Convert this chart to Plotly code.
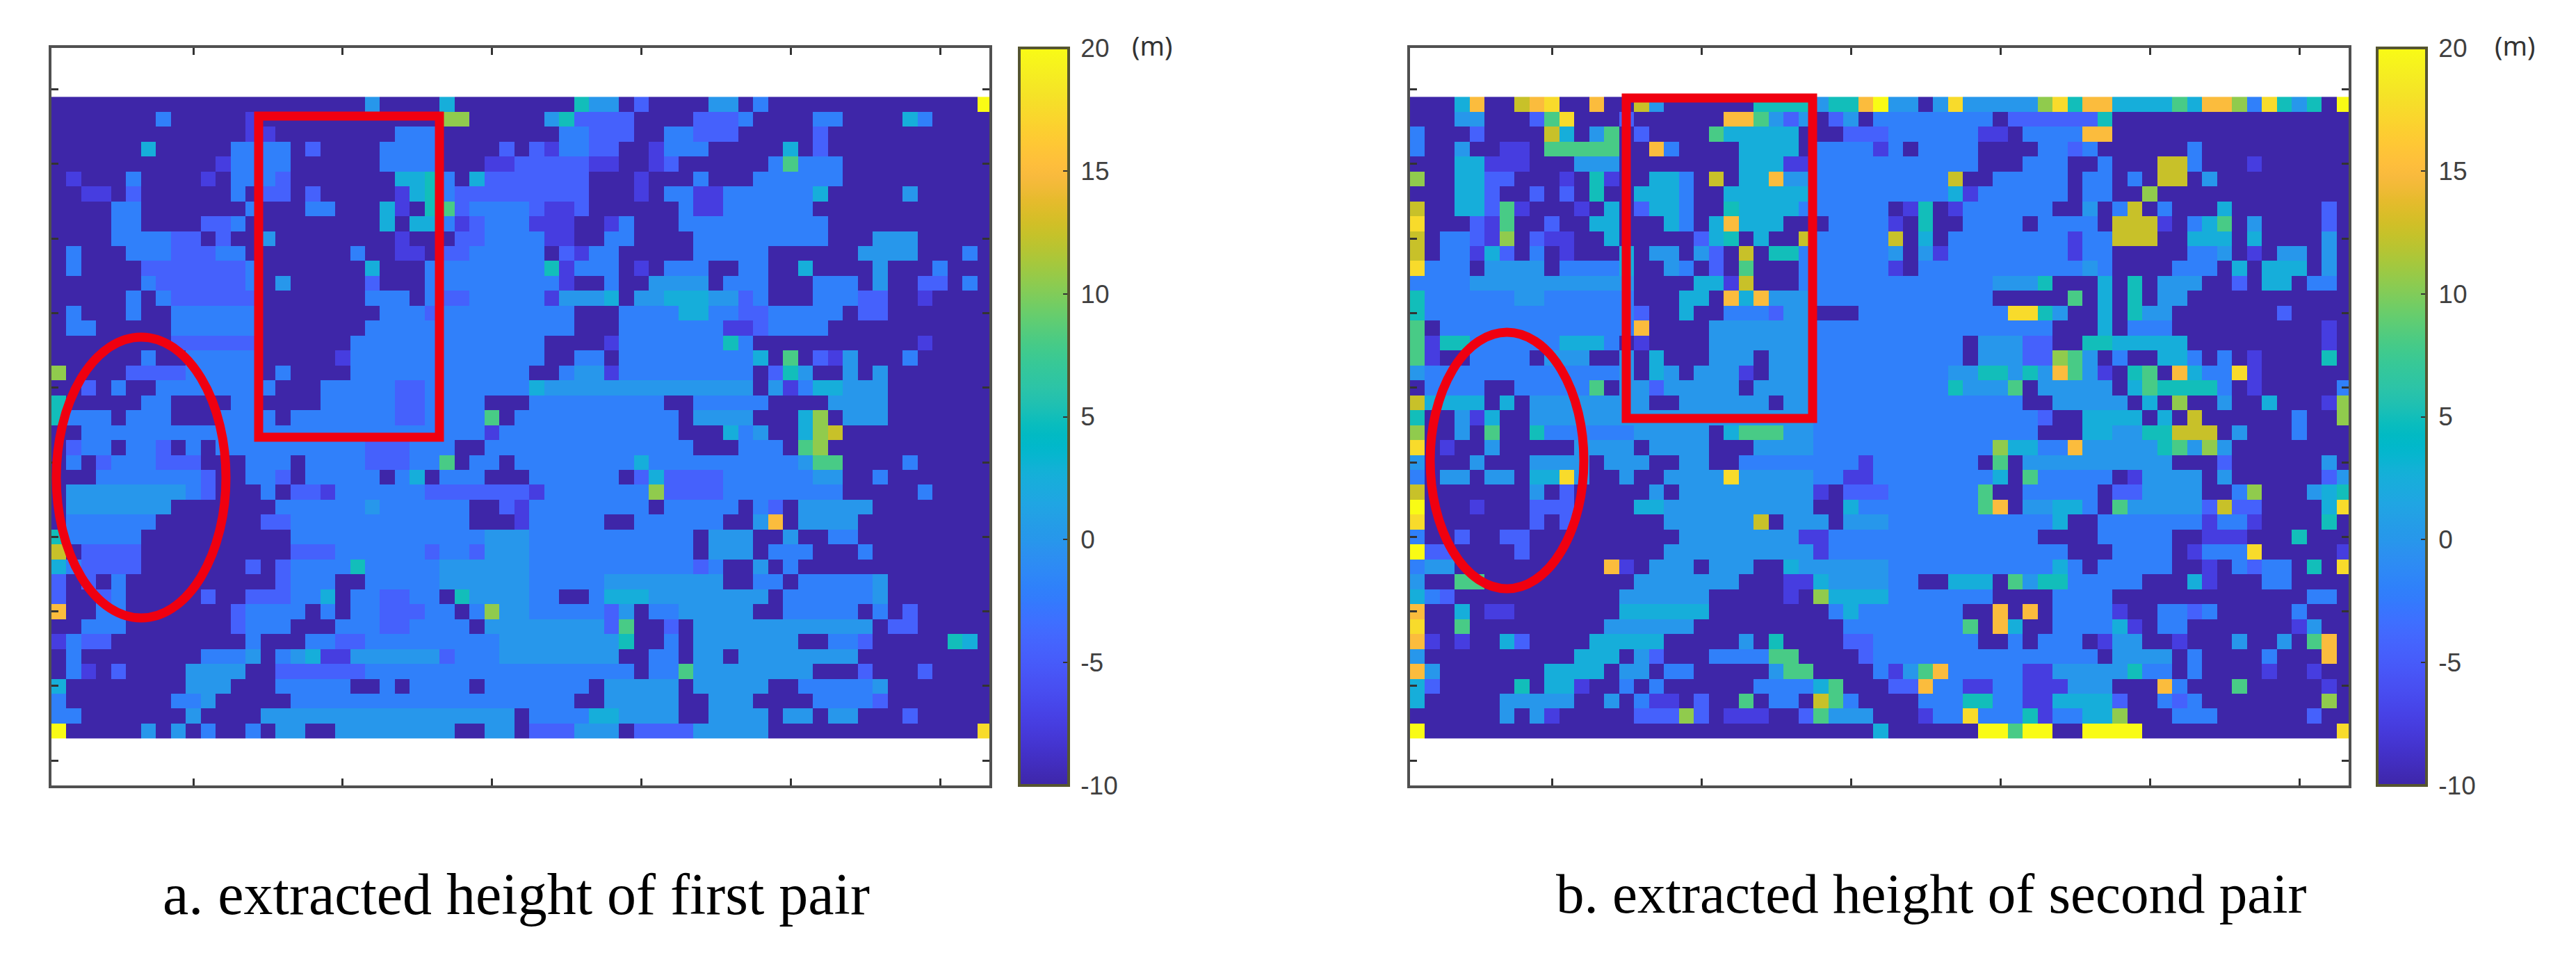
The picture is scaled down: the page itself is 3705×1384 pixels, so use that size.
import re
import plotly.graph_objects as go

W, H = 3705, 1384
N_COLS, N_ROWS = 63, 43

# Height levels (m) used when reading cells off the picture
LEVELS = {".": -10, "p": -7.5, "b": -4.5, "c": -2, "d": 0, "e": 2.5, "f": 5,
          "g": 8, "h": 10.5, "i": 12.5, "j": 15, "k": 17.5, "l": 20}

# Each row: "<start column><level>" runs, left to right
ROWS_FIRST = [
"1. 22d 23. 27e 28. 36f 37d 39. 40b 41. 45d 47. 48c 49. 63l",
"1. 8c 9. 14p 15. 27h 29. 34d 35f 36b 40. 44b 47c 48. 52c 54. 58e 59c 60.",
"1. 14p 16. 24c 27. 35c 37b 40. 42c 44b 47. 52b 53.",
"1. 7e 8. 13c 17. 18b 19. 23c 27. 31b 32. 33b 34p 35c 37b 39. 41p 42c 45. 50e 51. 52b 53.",
"1. 12p 13c 17. 23c 27. 30p 32b 37p 39. 41p 42b 43. 49c 50g 51c 54.",
"1. 2p 3. 6c 7. 11p 12. 13c 16b 17. 24e 26f 27c 28. 29e 30b 37. 40p 41. 44c 45. 48c 54.",
"1. 3p 5. 6b 7. 13c 14. 15b 17. 18b 19. 24p 25e 26f 27c 28b 37. 40p 41. 42c 44p 46c 52e 53. 58d 59.",
"1. 5c 7. 14c 15. 18c 20. 23e 24p 25. 26f 27g 28b 29c 33b 34p 36b 37. 43c 44p 46c 52.",
"1. 5c 7. 11b 13c 14. 23e 24. 25e 27c 28p 29b 30c 33p 36. 38p 39c 40. 43c 53.",
"1. 5c 9b 11. 12b 13. 15d 16. 24p 25. 28b 30c 34p 36. 38c 40. 44c 53. 56d 59.",
"1. 2c 3. 6c 9b 12c 14. 21c 22. 24p 26. 27b 29c 34. 35b 36p 37c 39. 44c 49. 55d 59. 62c 63.",
"1. 2c 3. 7b 14c 15. 22e 23. 26c 34f 35p 36c 39. 40p 41. 42c 45. 47c 49. 51e 52. 56d 57. 60c 61.",
"1. 7c 8b 14c 15. 16d 17. 22b 23. 26c 35p 36. 38c 39. 41d 45. 46c 49. 52c 55. 56d 57. 59b 61. 62c 63.",
"1. 6c 7. 8c 9b 15. 22c 25. 26c 27b 29c 34p 35d 38e 39. 40d 42e 45d 47b 48c 49. 52c 55b 57. 59p 60.",
"1. 2c 3. 6c 7. 9c 15. 23c 26b 27c 36. 39c 43e 45c 47b 49c 54. 55b 57.",
"1. 2c 4. 9c 15. 22c 36. 39c 46p 48b 49c 53.",
"1. 9b 15. 21c 34. 38p 39c 46f 47c 48. 59p 60.",
"1. 7c 8. 10c 15. 20p 21c 34. 36c 38. 39c 48e 49. 50g 51. 52b 53p 54d 55. 58c 59.",
"1h 2. 6b 10c 15. 16c 17. 21c 33. 35c 36d 38p 39c 48. 49b 50f 51d 52. 54d 55. 56d 57.",
"1. 3b 4. 5c 6. 8c 16. 19c 24b 26c 33e 34d 48. 49d 50p 51c 52e 54d 57.",
"1f 2. 7c 9. 13c 15. 19c 24b 26c 30. 33c 42. 44c 49. 53d 57.",
"1f 2c 5. 6c 9. 12c 16. 17c 24b 26c 30g 31. 32c 43. 44d 48. 51e 52h 53. 54d 57.",
"1. 3c 30p 31c 43. 46e 47c 48d 49. 51e 52h 53i 54.",
"1. 2b 3c 5. 6c 8b 9. 10c 11. 12c 22b 25c 28. 30c 44. 47c 50. 51g 52h 53.",
"1. 2c 3. 4b 5c 8b 11. 14c 17. 18c 22b 25c 27g 28. 29c 31. 32c 40e 41c 51d 52g 54. 58c 59.",
"1. 4c 11b 12. 14c 16b 17. 18c 23. 24c 25e 26. 27c 30. 33c 39. 40b 41e 42b 46c 52d 54. 56c 57.",
"1. 2d 10c 11b 12. 15c 16. 17b 19p 20c 26b 33p 34c 41h 42b 46c 54. 59c 60.",
"1. 2d 9. 16c 22d 23c 29. 31b 32p 33c 41. 42c 47. 48c 49b 50. 51d 56.",
"1. 2c 8. 15b 17c 29. 32p 33c 38. 40c 46. 48d 49j 50. 51d 55.",
"1f 2c 7. 17c 30d 33c 44. 45d 48. 50d 51. 53c 55.",
"1i 2. 3b 7. 17b 20c 26b 27c 29b 30d 33c 44. 45d 48. 49c 52. 55c 56.",
"1e 2c 3b 7. 14b 15. 16b 17c 21f 22c 27d 33c 44b 45c 46. 48d 49. 50c 51.",
"1b 2. 3b 4. 5c 6. 16b 17c 20. 22c 27d 33c 38d 41d 46. 48c 50. 51c 56d 57.",
"1b 2. 4b 5c 6. 11b 12. 14b 17c 19e 20. 21c 23b 25c 27. 28f 29d 33c 35. 37c 38e 41d 49. 50c 56d 57.",
"1j 2. 4c 6. 13b 14c 18. 19c 20. 21c 23b 26c 28. 29c 30h 31d 33c 38b 39d 40. 41c 43d 48. 50c 55. 56c 57. 58b 59.",
"1. 3c 6. 13b 14c 17. 20c 23b 25c 29. 30d 38b 39g 40. 42b 43. 44d 56. 57b 59.",
"1p 2c 3b 5. 14c 15. 18c 20b 22c 31d 39f 40. 42c 43. 44d 51. 53c 55b 56. 61f 62e 63.",
"1. 2c 3. 11c 14d 15. 16c 17d 18e 19p 21d 27b 28c 31d 39. 41c 43. 44d 46. 47d 55.",
"1. 2c 3p 4. 5b 6. 10d 14. 16b 22c 40. 41c 43g 44d 52. 55b 56. 59b 60.",
"1e 2. 10d 13. 16c 21. 23c 24. 25c 29. 30c 37. 38d 43. 44d 49. 51c 56d 57.",
"1c 2. 9c 11d 12. 17c 36. 38d 43. 45d 48. 52c 56b 57.",
"1c 3. 10d 11. 15d 32. 33c 37e 39d 43. 45d 49. 50d 52. 53d 55. 58b 59.",
"1l 2. 7d 8. 9d 10. 11c 12. 14c 15. 16d 18. 20d 28. 30d 32. 33b 36d 39. 40b 44d 49. 63k",
]

ROWS_SECOND = [
"1. 4e 5j 6. 8i 9j 10k 11. 13j 14. 16i 17d 18. 24f 28d 29f 31j 32l 33d 35. 36d 37k 38d 43h 44k 45f 46j 48e 52g 53e 54j 56h 57c 58k 59f 60d 61f 62. 63l",
"1. 4d 6. 9b 10g 11k 12. 15b 16. 22j 24g 25d 26b 27d 28. 29b 30d 31. 32c 40. 41b 47f 48.",
"1c 2. 5b 6. 10i 11e 12. 13d 14g 15. 16b 17. 21g 22e 27. 30b 33c 39p 41. 42c 46j 48.",
"1c 2. 4d 5. 7p 9. 10g 15. 17j 18c 19. 23e 27. 28c 32p 33c 34. 35c 39. 43c 45b 46c 47. 53c 54.",
"1. 4e 6p 9. 12d 15. 23e 26p 28c 39. 42c 45. 47c 48. 51i 53c 54. 57p 58.",
"1h 2. 4e 6b 8. 11p 12. 13f 14p 15. 17e 19c 20. 21i 22. 23e 25j 26d 28c 37i 38. 40c 45. 46c 48. 49c 50. 51i 53. 54d 55.",
"1. 4e 6b 7. 9b 10. 11b 12. 13f 14. 16e 19c 20. 22e 28c 37e 38p 39c 45. 46c 48. 50h 51.",
"1i 2. 4e 6b 7g 8p 9. 12p 13. 14e 15. 16b 17e 19c 20. 22f 23e 27c 33. 34p 35f 36. 37p 38c 44. 46d 47. 48c 49i 50. 51c 52. 55e 56. 62b 63.",
"1k 2. 5b 6p 7g 8. 10b 11. 13e 15. 18e 19c 20. 21e 22j 23e 26. 29c 33p 34. 35f 36. 38c 42. 43c 47. 48i 51p 52. 53c 54e 55g 56. 57d 58. 62b 63.",
"1i 2. 3c 5b 6p 7h 8. 9b 10p 12. 14e 15. 20b 21e 22f 23. 24e 25. 27i 28c 33i 34. 35e 36. 37c 45p 46c 48i 51. 53e 56. 57e 58. 62d 63.",
"1i 2. 3c 5p 6e 7b 8. 9c 10. 11p 12. 15e 16. 17d 19. 20d 21b 22. 23i 24. 25f 27c 33d 34. 35d 36p 37c 45p 46c 48. 53c 55d 56. 57p 58. 59d 61. 62d 63.",
"1k 2c 5. 6d 10. 11c 15e 16. 18d 19c 20. 21b 22. 23g 24. 27c 33p 34. 35c 46d 47c 48. 52c 55. 56e 57. 58e 61. 62d 63.",
"1c 5d 16. 20e 22p 23i 24. 27c 40d 43f 44. 47e 48. 49f 50. 51d 54. 56b 57. 58e 60. 61c 63.",
"1f 2c 8d 10c 16. 19e 21. 22j 23e 24j 25d 28c 40. 45g 46. 47e 48. 49f 50. 51d 53.",
"1f 2c 16b 17. 19e 20. 22c 25b 26d 28. 31c 41k 43f 44d 45. 47e 48. 49f 50d 52. 59b 60.",
"1g 2. 3c 16j 17. 21d 28c 44. 47e 48. 49c 52. 62p 63.",
"1g 2p 3f 5c 11e 14c 15. 16p 17. 21d 28c 38. 39d 42b 44. 46f 48e 53. 62p 63.",
"1g 2p 3. 5c 9. 10d 13. 15d 16. 17e 18. 21d 24. 25d 28c 38. 39d 42b 44h 45g 46d 47. 48c 49. 51e 53c 54. 55c 56. 57p 58. 62f 63.",
"1d 2c 15d 16. 17e 18d 19. 20d 23p 24. 25d 28c 37d 39f 41d 42f 43d 44j 45g 46d 47p 48. 49f 50g 51. 52j 53e 54c 56k 57p 58.",
"1. 2c 6. 8c 13g 14. 15d 17b 18d 23. 24d 28c 37f 38d 41g 42. 43d 48. 49e 50g 51f 55c 56. 57p 58. 63c",
"1i 2e 6. 7e 8. 9d 17. 19d 25. 26d 28c 42. 44d 49. 50e 51. 52h 53. 55d 56. 58e 59. 62p 63h",
"1f 2. 4d 5p 6e 7. 9d 28c 43b 44. 46e 50. 51e 52. 53i 54. 60c 61. 63h",
"1h 2. 4d 5. 6g 7. 9f 10c 16d 21. 22e 23g 26d 28c 43. 46e 48d 50f 52i 55. 56d 57. 60c 61.",
"1k 2. 3p 4. 6d 7. 12d 16. 17d 21. 24d 28c 40h 41e 43c 45j 46d 51f 52g 53d 54h 55d 56.",
"1d 2. 5d 6. 9d 13. 14d 17. 19d 21. 23c 31p 32c 39. 40g 41. 42d 52. 55b 56. 62d 63.",
"1c 2. 3d 5. 6d 8. 9e 11k 12d 13. 15d 16. 18d 22k 23d 28c 30p 32c 40e 41. 42g 43c 48. 49p 50d 54. 55d 56. 62b 63d",
"1i 2. 9d 10. 11b 12. 17d 18. 19d 28p 29. 30b 33c 39g 40. 42c 47. 48b 50d 54. 56c 57h 58. 61d 62e 63f",
"1l 2. 5p 6. 9b 12. 16e 18d 28. 30e 31c 39g 40j 41. 42d 44e 46c 47. 48g 49d 54b 55i 56b 58. 62e 63k",
"1k 2. 9b 10. 11b 12. 18d 24i 25. 26d 29. 30d 33c 44e 45. 47c 54p 55c 57p 58. 62f 63.",
"1c 2. 4b 5. 7b 9. 19d 27p 29c 43. 47c 52. 54p 57. 60f 61.",
"1l 2b 4. 8b 9. 18d 28p 29c 45. 48c 52. 53p 54c 57k 58. 63p",
"1c 2d 4. 14j 15p 16. 17d 20. 21d 24. 26e 27d 33c 44e 45c 46. 47c 52. 54p 55. 56c 57b 58c 60. 61f 62. 63k",
"1d 2. 4g 6. 16d 23. 26p 28e 29d 33c 35. 37e 40. 41g 42d 43f 45c 50. 53e 54p 55. 58c 60.",
"1e 2c 3b 4. 15d 21. 26p 27. 28h 29e 33c 40. 44c 48. 61c 63.",
"1j 2. 4e 5. 6p 8. 15e 21. 29c 30e 31c 38. 40j 41. 42j 43. 44c 48p 49. 51c 53b 54c 55. 60c 61.",
"1k 2. 4g 5. 14d 20. 30c 38g 39. 40j 41e 42. 44c 48e 49p 50. 51c 53. 60p 61d 62.",
"1j 2p 3. 4p 5. 7e 8b 9. 13e 18. 23d 24. 25f 26. 30b 32c 39. 41c 42. 43c 46. 47p 48d 50. 52p 53. 56d 57. 59d 60. 61g 62j 63.",
"1d 2. 12e 15. 16d 17b 18. 21c 25g 27. 31b 32c 47. 48d 52. 53c 54. 58c 59. 62j 63.",
"1j 2d 3. 10e 14. 15d 17. 18c 20. 25d 26g 28. 32c 33p 34d 35g 36j 37c 42p 44d 49f 50c 52. 53c 54. 58p 59. 61p 62.",
"1e 2b 3. 8f 9. 10e 12p 13. 15c 16. 17c 18. 24c 28e 29g 30. 33b 35j 36c 38p 40c 42p 45d 48. 51j 52c 53. 56g 57. 62p 63.",
"1e 2. 7d 12. 14d 15. 16c 17p 19. 20b 21. 23g 24. 25c 27. 28i 29g 30c 31. 35c 38f 40c 42p 44e 48b 49. 51c 52b 53c 54. 62h 63.",
"1. 7d 8. 9d 10p 11. 16b 19h 20b 21. 22p 25. 27b 28g 29d 32. 35p 36c 38k 39c 42f 43p 44c 46e 48h 49. 52c 55. 61b 62.",
"1l 2. 32e 33. 39l 41g 42l 44. 46l 50. 63k",
]

X_TICKS = [10, 20, 30, 40, 50, 60]
Y_TICKS = [0, 5, 10, 15, 20, 25, 30, 35, 40, 45]
CBAR_TICKS = [-10, -5, 0, 5, 10, 15, 20]
CBAR_LABELS = ["-10", "-5", "0", "5", "10", "15", "20"]
CAPTIONS = ["a. extracted height of first pair", "b. extracted height of second pair"]

PARULA = [
(.2422,.1504,.6603),(.2504,.1650,.7076),(.2578,.1818,.7511),(.2647,.1978,.7952),
(.2706,.2147,.8364),(.2751,.2342,.8710),(.2783,.2559,.8991),(.2803,.2782,.9221),
(.2813,.3006,.9414),(.2810,.3228,.9579),(.2795,.3447,.9717),(.2760,.3667,.9829),
(.2699,.3892,.9906),(.2602,.4123,.9952),(.2440,.4358,.9988),(.2206,.4603,.9973),
(.1963,.4847,.9892),(.1834,.5074,.9798),(.1786,.5289,.9682),(.1764,.5499,.9520),
(.1687,.5703,.9359),(.1540,.5902,.9218),(.1460,.6091,.9079),(.1380,.6276,.8973),
(.1248,.6459,.8883),(.1113,.6635,.8763),(.0952,.6798,.8598),(.0689,.6948,.8394),
(.0297,.7082,.8163),(.0036,.7203,.7917),(.0067,.7312,.7660),(.0433,.7411,.7394),
(.0964,.7500,.7120),(.1408,.7584,.6842),(.1717,.7670,.6554),(.1938,.7758,.6251),
(.2161,.7843,.5923),(.2470,.7918,.5567),(.2906,.7973,.5188),(.3406,.8008,.4789),
(.3909,.8029,.4354),(.4456,.8024,.3909),(.5044,.7993,.3480),(.5616,.7942,.3045),
(.6174,.7876,.2612),(.6720,.7793,.2227),(.7242,.7698,.1910),(.7738,.7598,.1646),
(.8203,.7498,.1535),(.8634,.7406,.1596),(.9035,.7330,.1774),(.9393,.7288,.2100),
(.9728,.7298,.2394),(.9956,.7434,.2371),(.9970,.7659,.2199),(.9952,.7893,.2028),
(.9892,.8136,.1885),(.9786,.8386,.1766),(.9676,.8639,.1643),(.9610,.8890,.1537),
(.9597,.9135,.1423),(.9628,.9373,.1265),(.9691,.9606,.1064),(.9769,.9839,.0805)]
COLORSCALE = [[i / 63, f"rgb({r*255:.0f},{g*255:.0f},{b*255:.0f})"] for i, (r, g, b) in enumerate(PARULA)]


def decode(rows):
    z = []
    for row in rows:
        runs = [(int(a), b) for a, b in re.findall(r"(\d+)(\S)", row)]
        cells = [-10] * N_COLS
        for k, (start, code) in enumerate(runs):
            end = runs[k + 1][0] if k + 1 < len(runs) else N_COLS + 1
            for c in range(start, end):
                cells[c - 1] = LEVELS[code]
        z.append(cells)
    return z


def px(x):
    return x / W


def py(y):
    return 1 - y / H


AX_TOP, AX_BOTTOM = 61, 1122
PANELS = [
    dict(rows=ROWS_FIRST, left=66, right=1415, cbar=1458, unit=1649, cap=734, cap_size=84,
         box=(364, 159, 624, 621), ell=(73, 477, 317, 881)),
    dict(rows=ROWS_SECOND, left=2020, right=3370, cbar=3411, unit=3609, cap=2770, cap_size=81,
         box=(2331, 133, 2599, 594), ell=(2049, 470, 2270, 839)),
]
AXIS_COLOR = "#505050"
TEXT_COLOR = "#404040"

fig = go.Figure()
shapes, annotations = [], []
layout = {}
for i, p in enumerate(PANELS, start=1):
    xa = "x" if i == 1 else f"x{i}"
    ya = "y" if i == 1 else f"y{i}"
    fig.add_trace(go.Heatmap(
        z=decode(p["rows"]),
        x=list(range(1, N_COLS + 1)),
        y=list(range(1, N_ROWS + 1)),
        xaxis=xa, yaxis=ya,
        zmin=-10, zmax=20, colorscale=COLORSCALE, zsmooth=False,
        colorbar=dict(
            x=px(p["cbar"]), xanchor="left", xpad=0, y=py(AX_TOP), yanchor="top", ypad=0,
            len=(AX_BOTTOM - AX_TOP) / H, lenmode="fraction",
            thickness=71, thicknessmode="pixels",
            tickmode="array", tickvals=CBAR_TICKS, ticktext=["\u2009" + t for t in CBAR_LABELS],
            ticks="inside", ticklen=10, tickwidth=2, tickcolor="#333333",
            tickfont=dict(family="Liberation Sans", size=37, color=TEXT_COLOR),
            outlinecolor="#55552f", outlinewidth=4,
        ),
    ))
    common = dict(showgrid=False, zeroline=False, showticklabels=False, showline=True,
                  linecolor=AXIS_COLOR, linewidth=4, mirror="allticks", ticks="inside",
                  ticklen=10, tickwidth=3, tickcolor="#333333", tickmode="array")
    layout["xaxis" if i == 1 else f"xaxis{i}"] = dict(
        common, domain=[px(p["left"]), px(p["right"])], range=[0.5, 63.3],
        tickvals=X_TICKS, anchor=ya)
    layout["yaxis" if i == 1 else f"yaxis{i}"] = dict(
        common, domain=[py(AX_BOTTOM), py(AX_TOP)], range=[46.67, -2.78],
        tickvals=Y_TICKS, anchor=xa)
    bx0, by0, bx1, by1 = p["box"]
    shapes.append(dict(type="rect", xref="paper", yref="paper",
                       x0=px(bx0), x1=px(bx1), y0=py(by0), y1=py(by1),
                       line=dict(color="#f00010", width=13), layer="above"))
    ex0, ey0, ex1, ey1 = p["ell"]
    shapes.append(dict(type="circle", xref="paper", yref="paper",
                       x0=px(ex0), x1=px(ex1), y0=py(ey0), y1=py(ey1),
                       line=dict(color="#f00010", width=13), layer="above"))
    annotations.append(dict(text="(m)", xref="paper", yref="paper", x=px(p["unit"]), y=py(57),
                            showarrow=False, xanchor="center", yanchor="middle",
                            font=dict(family="Noto Sans", size=38, color="#333333")))
    annotations.append(dict(text=CAPTIONS[i - 1], xref="paper", yref="paper", x=px(p["cap"]), y=py(1278),
                            showarrow=False, xanchor="center", yanchor="middle",
                            font=dict(family="Liberation Serif", size=p["cap_size"], color="#000000")))

fig.update_layout(width=W, height=H, margin=dict(l=0, r=0, t=0, b=0),
                  paper_bgcolor="white", plot_bgcolor="white",
                  shapes=shapes, annotations=annotations, **layout)
fig.write_html("out.html")
